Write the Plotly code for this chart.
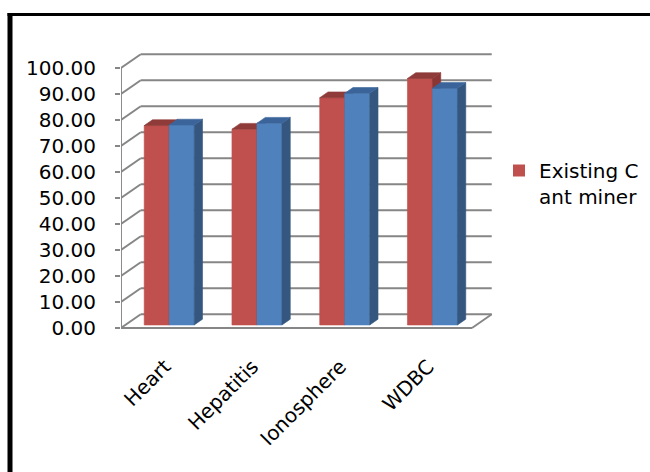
import plotly.graph_objects as go

# ---- data ----
categories = ["Heart", "Hepatitis", "Ionosphere", "WDBC"]
existing_c = [76.7, 75.3, 87.4, 94.8]
ant_miner = [76.9, 77.6, 89.1, 91.0]
y_ticks = [0, 10, 20, 30, 40, 50, 60, 70, 80, 90, 100]
legend_label = "Existing C<br>ant miner"

# ---- styling / geometry ----
W, H = 650, 472
L, R, T, B = 121, 150, 50, 142
PW, PH = W - L - R, H - T - B
PX_PER_X = 87.75
PX_PER_Y = 2.6
x_range = [-0.5, -0.5 + PW / PX_PER_X]
y_range = [-2 / PX_PER_Y, (328 - T) / PX_PER_Y]

DX, DY = 0.225, 5.3          # wall depth in data units
D0, DD = 0.22, 0.42          # bar front depth fraction, bar depth fraction
BW = 0.285                   # bar width
GRID = "#868686"
FONT = "DejaVu Sans"
FS = 20

RED = dict(front="#C0504D", side="#8B3634", top="#8F3B39")
BLUE = dict(front="#4F81BD", side="#35577F", top="#3B659A")

n = len(categories)
x0w, x1w = -0.5, n - 0.5

fig = go.Figure()


def faces(values, left_offset):
    fx, fy, sx, sy, tx, ty = [], [], [], [], [], []
    yb = D0 * DY
    ddx, ddy = DD * DX, DD * DY
    for i, v in enumerate(values):
        c = i + D0 * DX
        a = c + left_offset
        b = a + BW
        top = yb + v
        fx += [a, b, b, a, a, None]
        fy += [yb, yb, top, top, yb, None]
        sx += [b, b + ddx, b + ddx, b, b, None]
        sy += [yb, yb + ddy, top + ddy, top, yb, None]
        tx += [a, a + ddx, b + ddx, b, a, None]
        ty += [top, top + ddy, top + ddy, top, top, None]
    return (fx, fy), (sx, sy), (tx, ty)


for vals, off, col in [(existing_c, -BW, RED), (ant_miner, 0.0, BLUE)]:
    front, side, topf = faces(vals, off)
    for (xs, ys), c in [(front, col["front"]), (side, col["side"]), (topf, col["top"])]:
        fig.add_trace(go.Scatter(x=xs, y=ys, mode="lines", fill="toself",
                                 fillcolor=c, line=dict(width=0.6, color=c),
                                 showlegend=False, hoverinfo="skip"))

# legend-only entry
fig.add_trace(go.Scatter(x=[None], y=[None], mode="markers", name=legend_label,
                         marker=dict(symbol="square", size=15, color=RED["front"]),
                         showlegend=True))

# ---- walls / grid ----
shapes = []
ln = dict(color=GRID, width=1.9)
for v in y_ticks:
    shapes.append(dict(type="line", xref="x", yref="y", x0=x0w + DX, x1=x1w + DX,
                       y0=v + DY, y1=v + DY, line=ln, layer="below"))
    shapes.append(dict(type="line", xref="x", yref="y", x0=x0w, x1=x0w + DX,
                       y0=v, y1=v + DY, line=ln, layer="below"))
shapes.append(dict(type="line", xref="x", yref="y", x0=x0w, x1=x0w,
                   y0=y_ticks[0], y1=y_ticks[-1], line=ln, layer="below"))
shapes.append(dict(type="line", xref="x", yref="y", x0=x0w, x1=x1w,
                   y0=0, y1=0, line=ln, layer="below"))
shapes.append(dict(type="line", xref="x", yref="y", x0=x1w, x1=x1w + DX,
                   y0=0, y1=DY, line=ln, layer="below"))


# outer border (pixel-based converted to paper)
def pxp(px):
    return (px - L) / PW


def pyp(py):
    return (H - B - py) / PH


shapes.append(dict(type="line", xref="paper", yref="paper", x0=pxp(10), x1=pxp(10),
                   y0=pyp(13), y1=pyp(H + 2), line=dict(color="black", width=5)))
shapes.append(dict(type="line", xref="paper", yref="paper", x0=pxp(7.5), x1=pxp(W + 2),
                   y0=pyp(14.5), y1=pyp(14.5), line=dict(color="black", width=3)))

fig.update_layout(
    width=W, height=H,
    margin=dict(l=L, r=R, t=T, b=B, autoexpand=False),
    paper_bgcolor="white", plot_bgcolor="rgba(0,0,0,0)",
    font=dict(family=FONT, size=FS, color="black"),
    shapes=shapes,
    showlegend=True,
    legend=dict(x=pxp(499), y=pyp(151), xanchor="left", yanchor="top",
                valign="top", bgcolor="rgba(0,0,0,0)", font=dict(size=FS),
                itemsizing="constant"),
    xaxis=dict(range=x_range, tickvals=list(range(n)), ticktext=categories,
               tickangle=-45, ticks="", showgrid=False, zeroline=False,
               showline=False, ticklabelstandoff=20, fixedrange=True,
               automargin=False),
    xaxis2=dict(range=x_range, overlaying="x", anchor="y", side="bottom",
                tickvals=[i - 0.5 for i in range(n + 1)], ticks="outside",
                ticklen=7, tickwidth=1.9, tickcolor=GRID, showticklabels=False,
                showgrid=False, zeroline=False, showline=False, automargin=False),
    yaxis=dict(range=y_range, tickvals=y_ticks, tickformat=".2f", ticks="outside",
               ticklen=5, tickwidth=1.9, tickcolor=GRID, showgrid=False,
               zeroline=False, showline=False, ticklabelstandoff=15,
               automargin=False),
)

fig.write_html("out.html")
